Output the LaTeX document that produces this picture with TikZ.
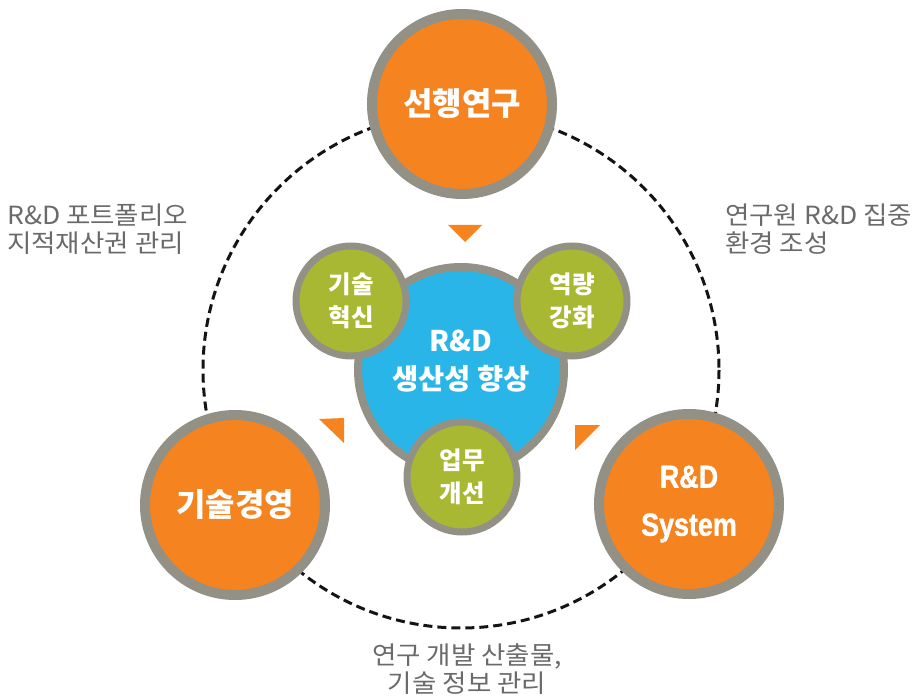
\documentclass[tikz,border=0pt]{standalone}
\usepackage{fontspec}
\setmainfont{Noto Sans CJK KR}
\newfontfamily\condfont{Liberation Sans Bold}[FakeStretch=0.84, FakeBold=1.2]
\newfontfamily\notefont{Noto Sans CJK KR}[FakeStretch=1.06]
\usepackage{tikz}
\usetikzlibrary{positioning}
\definecolor{hubOrange}{RGB}{245,131,32}
\definecolor{ringGray}{RGB}{147,145,134}
\definecolor{coreBlue}{RGB}{41,181,232}
\definecolor{leafGreen}{RGB}{169,184,51}
\definecolor{noteGray}{RGB}{105,106,108}
\definecolor{dashBlack}{RGB}{20,20,20}

\begin{document}
\begin{tikzpicture}[x=1pt, y=-1pt,
    hub/.style={circle, draw=ringGray, line width=10pt, fill=hubOrange,
                minimum size=180pt, inner sep=0pt, text=white, align=center,
                font=\fontsize{32}{40}\selectfont\bfseries},
    core/.style={circle, draw=ringGray, line width=8pt, fill=coreBlue,
                 minimum size=206pt, inner sep=0pt},
    corelbl/.style={text=white, align=center, font=\fontsize{28.5}{38}\selectfont\bfseries},
    leaf/.style={circle, draw=ringGray, line width=7pt, fill=leafGreen,
                 minimum size=110pt, inner sep=0pt, text=white, align=center,
                 font=\fontsize{24.5}{33}\selectfont\bfseries},
    note/.style={text=noteGray, inner sep=0pt, font=\fontsize{25}{28}\selectfont\notefont},
    orbit/.style={draw=dashBlack, line width=3pt, dash pattern=on 9pt off 5pt},
    tri/.style={fill=hubOrange}
]
    \useasboundingbox (0,0) rectangle (913,700);
    \coordinate (c) at (461,370);
    \draw[orbit] (c) circle (258);

    \node[hub] (research) at (462,104) {선행연구};
    \node[hub] (mgmt) at (235,505) {기술경영};
    \node[hub, font=\fontsize{32}{48}\selectfont\condfont] (system) at (689,504) {R\&D\\System};

    \node[core] (core) at (c) {};
    \node[corelbl] (corelabel) at (461,361) {R\&D\\생산성 향상};

    \node[leaf] (innov) at (351,301) {기술\\혁신};
    \node[leaf] (capab) at (572,301) {역량\\강화};
    \node[leaf] (work) at (462,477) {업무\\개선};

    \fill[tri] (448,225) -- (482,225) -- (465,242) -- cycle;
    \fill[tri] (319,419) -- (344,418) -- (344,443) -- cycle;
    \fill[tri] (575,425) -- (600,425) -- (575,450) -- cycle;

    \node[note, anchor=west, align=left] (leftnote) at (7,229) {R\&D 포트폴리오\\지적재산권 관리};
    \node[note, anchor=west, align=left] (rightnote) at (725,229) {연구원 R\&D 집중\\환경 조성};
    \node[note, align=center] (bottomnote) at (467,669) {연구 개발 산출물,\\기술 정보 관리};
\end{tikzpicture}
\end{document}
